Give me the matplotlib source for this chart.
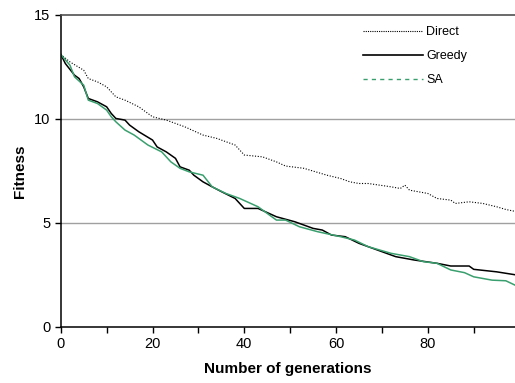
import matplotlib.pyplot as plt
from matplotlib.lines import Line2D

# Fitness per generation for the three search strategies
direct_gen = [0, 2, 5, 6, 8, 10, 12, 14, 17, 20, 23, 27, 31, 34, 38, 40, 44, 47, 49,
              53, 58, 61, 63, 65, 67, 72, 74, 75, 76, 80, 82, 85, 86, 89, 92, 95, 97, 99]
direct_fit = [13.1, 12.74, 12.34, 11.94, 11.78, 11.54, 11.06, 10.9, 10.58, 10.1, 9.94,
              9.62, 9.22, 9.06, 8.74, 8.26, 8.17, 7.93, 7.73, 7.62, 7.29, 7.13, 6.97,
              6.89, 6.89, 6.73, 6.65, 6.81, 6.57, 6.41, 6.17, 6.09, 5.93, 6.01, 5.93,
              5.77, 5.64, 5.55]

greedy_gen = [0, 1, 3, 4, 5, 6, 8, 10, 11, 12, 14, 15, 17, 20, 21, 23, 25, 26, 28, 29,
              31, 33, 35, 38, 40, 43, 47, 51, 55, 57, 59, 62, 65, 69, 73, 77, 82, 85,
              89, 90, 95, 99]
greedy_fit = [13.1, 12.66, 12.1, 11.94, 11.54, 10.98, 10.82, 10.58, 10.26, 10.02, 9.94,
              9.7, 9.38, 8.98, 8.65, 8.41, 8.1, 7.69, 7.53, 7.29, 6.97, 6.73, 6.5, 6.17,
              5.69, 5.69, 5.29, 5.05, 4.73, 4.65, 4.41, 4.33, 4.01, 3.69, 3.37, 3.21,
              3.05, 2.92, 2.92, 2.76, 2.64, 2.5]

sa_gen = [0, 2, 3, 5, 6, 8, 10, 11, 12, 14, 16, 19, 22, 24, 26, 28, 31, 33, 36, 39, 43,
          47, 49, 52, 56, 61, 64, 67, 72, 76, 79, 82, 85, 88, 90, 94, 97, 99]
sa_fit = [13.1, 12.58, 12.02, 11.62, 10.9, 10.74, 10.42, 10.1, 9.86, 9.46, 9.22, 8.74,
          8.41, 7.93, 7.62, 7.45, 7.29, 6.73, 6.41, 6.17, 5.77, 5.13, 5.13, 4.81, 4.57,
          4.33, 4.17, 3.85, 3.53, 3.37, 3.13, 3.05, 2.73, 2.6, 2.4, 2.24, 2.21, 2.0]

labels = ['Direct', 'Greedy', 'SA']
sa_color = '#3a9f6e'

plt.rcParams['font.family'] = ['Liberation Sans', 'DejaVu Sans']

fig = plt.figure(figsize=(5.15, 3.83), dpi=100)
ax = fig.add_axes([0.118, 0.147, 0.882, 0.814])

ax.plot(direct_gen, direct_fit, color='black', lw=0.8, ls=(0, (1, 1.5)))
ax.plot(greedy_gen, greedy_fit, color='black', lw=1.1)
ax.plot(sa_gen, sa_fit, color=sa_color, lw=1.1)

ax.set_xlim(0, 99)
ax.set_ylim(0, 15)
ax.set_yticks([0, 5, 10, 15])
ax.set_xticks(range(0, 100, 20))
ax.set_xticks(range(0, 100, 10), minor=True)
ax.tick_params(axis='both', direction='out', labelsize=10.5, length=4, width=1)
ax.tick_params(axis='x', which='minor', direction='out', length=4, width=1)

# horizontal gridlines at 5 and 10 only
for yv in (5, 10):
    ax.axhline(yv, color='#a0a0a0', lw=1, zorder=0)

ax.spines['right'].set_visible(False)
ax.spines['top'].set_color('#505050')
ax.spines['top'].set_linewidth(1.2)
ax.spines['left'].set_linewidth(1.1)
ax.spines['bottom'].set_linewidth(1.1)

ax.set_xlabel('Number of generations', fontsize=11, fontweight='bold', labelpad=8)
ax.set_ylabel('Fitness', fontsize=11, fontweight='bold', labelpad=5)

handles = [
    Line2D([], [], color='black', lw=0.8, ls=(0, (1, 1))),
    Line2D([], [], color='black', lw=1.2),
    Line2D([], [], color=sa_color, lw=1.0, ls=(0, (3, 3))),
]
ax.legend(handles, labels, loc='upper left', bbox_to_anchor=(0.64, 1.0),
          frameon=False, fontsize=9, handlelength=4.8, handletextpad=0.3,
          labelspacing=0.95)

fig.savefig('out.png', dpi=100)
